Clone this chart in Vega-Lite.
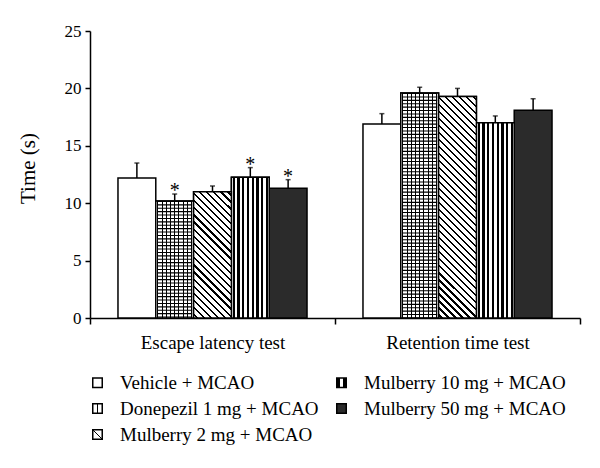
{
"$schema":"https://vega.github.io/schema/vega-lite/v6.json",
"width":490,"height":287,
"autosize":{"type":"none"},
"padding":{"left":90,"top":31,"right":20,"bottom":150},
"config":{"view":{"stroke":null},"font":"Liberation Serif",
"axis":{"labelFont":"Liberation Serif","titleFont":"Liberation Serif","labelColor":"black","titleColor":"black","domainColor":"black","tickColor":"black","domainWidth":1.5,"tickWidth":1.5,"grid":false}},
"data":{"values":[
{"test":"Escape latency test","treatment":"Vehicle + MCAO","time":12.2,"upper":13.5,"sig":""},
{"test":"Escape latency test","treatment":"Donepezil 1 mg + MCAO","time":10.2,"upper":10.8,"sig":"*"},
{"test":"Escape latency test","treatment":"Mulberry 2 mg + MCAO","time":11.0,"upper":11.5,"sig":""},
{"test":"Escape latency test","treatment":"Mulberry 10 mg + MCAO","time":12.25,"upper":13.1,"sig":"*"},
{"test":"Escape latency test","treatment":"Mulberry 50 mg + MCAO","time":11.3,"upper":12.05,"sig":"*"},
{"test":"Retention time test","treatment":"Vehicle + MCAO","time":16.9,"upper":17.8,"sig":""},
{"test":"Retention time test","treatment":"Donepezil 1 mg + MCAO","time":19.6,"upper":20.1,"sig":""},
{"test":"Retention time test","treatment":"Mulberry 2 mg + MCAO","time":19.3,"upper":20.0,"sig":""},
{"test":"Retention time test","treatment":"Mulberry 10 mg + MCAO","time":17.0,"upper":17.6,"sig":""},
{"test":"Retention time test","treatment":"Mulberry 50 mg + MCAO","time":18.1,"upper":19.1,"sig":""}
]},
"encoding":{
"x":{"field":"test","type":"nominal","scale":{"paddingInner":0,"paddingOuter":0},"axis":{"title":null,"labelAngle":0,"labelFontSize":19,"labelPadding":9,"tickBand":"extent","tickSize":6}},
"xOffset":{"field":"treatment","type":"nominal","scale":{"domain":["Vehicle + MCAO","Donepezil 1 mg + MCAO","Mulberry 2 mg + MCAO","Mulberry 10 mg + MCAO","Mulberry 50 mg + MCAO"],"paddingInner":0,"paddingOuter":0.74}},
"y":{"field":"time","type":"quantitative","scale":{"domain":[0,25]},"axis":{"title":"Time (s)","values":[0,5,10,15,20,25],"labelFontSize":17,"titleFontSize":21,"titleFontWeight":"normal","tickSize":5,"labelPadding":4,"titlePadding":26,"titleY":137}}
},
"layer":[
{"mark":{"type":"bar","stroke":"black","strokeWidth":1.5},
"encoding":{"color":{"field":"treatment","type":"nominal",
"scale":{"domain":["Vehicle + MCAO","Donepezil 1 mg + MCAO","Mulberry 2 mg + MCAO","Mulberry 10 mg + MCAO","Mulberry 50 mg + MCAO"],
"range":["white",
{"expr":"{gradient:'linear',x1:0,y1:0,x2:1,y2:0,stops:[{offset:0,color:'white'},{offset:0.44,color:'white'},{offset:0.44,color:'black'},{offset:0.56,color:'black'},{offset:0.56,color:'white'},{offset:1,color:'white'}]}"},
{"expr":"{gradient:'linear',x1:0,y1:1,x2:1,y2:0,stops:[{offset:0,color:'white'},{offset:0.45,color:'white'},{offset:0.45,color:'black'},{offset:0.55,color:'black'},{offset:0.55,color:'white'},{offset:1,color:'white'}]}"},
{"expr":"{gradient:'linear',x1:0,y1:0,x2:1,y2:0,stops:[{offset:0,color:'black'},{offset:0.36,color:'black'},{offset:0.36,color:'white'},{offset:0.64,color:'white'},{offset:0.64,color:'black'},{offset:1,color:'black'}]}"},
"#2b2b2b"]},
"legend":{"title":null,"orient":"none","legendX":-2,"legendY":342,"columns":2,"symbolType":"square","symbolSize":90,"symbolStrokeColor":"black","symbolStrokeWidth":1.5,"labelFontSize":19,"labelFont":"Liberation Serif","labelColor":"black","labelOffset":13,"rowPadding":6,"columnPadding":13,"labelLimit":400}}}},
{"transform":[{"filter":"datum.treatment == 'Donepezil 1 mg + MCAO'"}],
"mark":{"type":"bar","stroke":"black","strokeWidth":1.5,"color":{"gradient":"linear","x1":0,"y1":0,"x2":1,"y2":0,"stops":[
{"offset":0.0416,"color":"white"},{"offset":0.0416,"color":"black"},{"offset":0.0696,"color":"black"},{"offset":0.0696,"color":"white"},
{"offset":0.1527,"color":"white"},{"offset":0.1527,"color":"black"},{"offset":0.1807,"color":"black"},{"offset":0.1807,"color":"white"},
{"offset":0.2638,"color":"white"},{"offset":0.2638,"color":"black"},{"offset":0.2918,"color":"black"},{"offset":0.2918,"color":"white"},
{"offset":0.3749,"color":"white"},{"offset":0.3749,"color":"black"},{"offset":0.4029,"color":"black"},{"offset":0.4029,"color":"white"},
{"offset":0.486,"color":"white"},{"offset":0.486,"color":"black"},{"offset":0.514,"color":"black"},{"offset":0.514,"color":"white"},
{"offset":0.5971,"color":"white"},{"offset":0.5971,"color":"black"},{"offset":0.6251,"color":"black"},{"offset":0.6251,"color":"white"},
{"offset":0.7082,"color":"white"},{"offset":0.7082,"color":"black"},{"offset":0.7362,"color":"black"},{"offset":0.7362,"color":"white"},
{"offset":0.8193,"color":"white"},{"offset":0.8193,"color":"black"},{"offset":0.8473,"color":"black"},{"offset":0.8473,"color":"white"},
{"offset":0.9304,"color":"white"},{"offset":0.9304,"color":"black"},{"offset":0.9584,"color":"black"},{"offset":0.9584,"color":"white"}]}}},
{"transform":[{"filter":"datum.treatment == 'Donepezil 1 mg + MCAO'"}],
"mark":{"type":"rule","color":"black","strokeWidth":35,"strokeDash":[1.1,2.3]},
"encoding":{"y2":{"datum":0}}},
{"transform":[{"filter":"datum.treatment == 'Mulberry 10 mg + MCAO'"}],
"mark":{"type":"bar","stroke":"black","strokeWidth":1.5,"color":{"gradient":"linear","x1":0,"y1":0,"x2":1,"y2":0,"stops":[
{"offset":0.0325,"color":"white"},{"offset":0.0325,"color":"black"},{"offset":0.0925,"color":"black"},{"offset":0.0925,"color":"white"},
{"offset":0.1575,"color":"white"},{"offset":0.1575,"color":"black"},{"offset":0.2175,"color":"black"},{"offset":0.2175,"color":"white"},
{"offset":0.2825,"color":"white"},{"offset":0.2825,"color":"black"},{"offset":0.3425,"color":"black"},{"offset":0.3425,"color":"white"},
{"offset":0.4075,"color":"white"},{"offset":0.4075,"color":"black"},{"offset":0.4675,"color":"black"},{"offset":0.4675,"color":"white"},
{"offset":0.5325,"color":"white"},{"offset":0.5325,"color":"black"},{"offset":0.5925,"color":"black"},{"offset":0.5925,"color":"white"},
{"offset":0.6575,"color":"white"},{"offset":0.6575,"color":"black"},{"offset":0.7175,"color":"black"},{"offset":0.7175,"color":"white"},
{"offset":0.7825,"color":"white"},{"offset":0.7825,"color":"black"},{"offset":0.8425,"color":"black"},{"offset":0.8425,"color":"white"},
{"offset":0.9075,"color":"white"},{"offset":0.9075,"color":"black"},{"offset":0.9675,"color":"black"},{"offset":0.9675,"color":"white"}]}}},
{"transform":[{"filter":"datum.treatment == 'Mulberry 2 mg + MCAO' && datum.test == 'Escape latency test'"}],
"mark":{"type":"bar","stroke":"black","strokeWidth":1.5,"color":{"gradient":"linear","x1":0,"y1":1,"x2":0.3569,"y2":-0.1925,"stops":[
{"offset":0.0147,"color":"white"},{"offset":0.0147,"color":"black"},{"offset":0.0287,"color":"black"},{"offset":0.0287,"color":"white"},
{"offset":0.0582,"color":"white"},{"offset":0.0582,"color":"black"},{"offset":0.0722,"color":"black"},{"offset":0.0722,"color":"white"},
{"offset":0.1017,"color":"white"},{"offset":0.1017,"color":"black"},{"offset":0.1157,"color":"black"},{"offset":0.1157,"color":"white"},
{"offset":0.1452,"color":"white"},{"offset":0.1452,"color":"black"},{"offset":0.1592,"color":"black"},{"offset":0.1592,"color":"white"},
{"offset":0.1887,"color":"white"},{"offset":0.1887,"color":"black"},{"offset":0.2027,"color":"black"},{"offset":0.2027,"color":"white"},
{"offset":0.2321,"color":"white"},{"offset":0.2321,"color":"black"},{"offset":0.2461,"color":"black"},{"offset":0.2461,"color":"white"},
{"offset":0.2756,"color":"white"},{"offset":0.2756,"color":"black"},{"offset":0.2896,"color":"black"},{"offset":0.2896,"color":"white"},
{"offset":0.3191,"color":"white"},{"offset":0.3191,"color":"black"},{"offset":0.3331,"color":"black"},{"offset":0.3331,"color":"white"},
{"offset":0.3626,"color":"white"},{"offset":0.3626,"color":"black"},{"offset":0.3766,"color":"black"},{"offset":0.3766,"color":"white"},
{"offset":0.4060,"color":"white"},{"offset":0.4060,"color":"black"},{"offset":0.4200,"color":"black"},{"offset":0.4200,"color":"white"},
{"offset":0.4495,"color":"white"},{"offset":0.4495,"color":"black"},{"offset":0.4635,"color":"black"},{"offset":0.4635,"color":"white"},
{"offset":0.4930,"color":"white"},{"offset":0.4930,"color":"black"},{"offset":0.5070,"color":"black"},{"offset":0.5070,"color":"white"},
{"offset":0.5365,"color":"white"},{"offset":0.5365,"color":"black"},{"offset":0.5505,"color":"black"},{"offset":0.5505,"color":"white"},
{"offset":0.5800,"color":"white"},{"offset":0.5800,"color":"black"},{"offset":0.5940,"color":"black"},{"offset":0.5940,"color":"white"},
{"offset":0.6234,"color":"white"},{"offset":0.6234,"color":"black"},{"offset":0.6374,"color":"black"},{"offset":0.6374,"color":"white"},
{"offset":0.6669,"color":"white"},{"offset":0.6669,"color":"black"},{"offset":0.6809,"color":"black"},{"offset":0.6809,"color":"white"},
{"offset":0.7104,"color":"white"},{"offset":0.7104,"color":"black"},{"offset":0.7244,"color":"black"},{"offset":0.7244,"color":"white"},
{"offset":0.7539,"color":"white"},{"offset":0.7539,"color":"black"},{"offset":0.7679,"color":"black"},{"offset":0.7679,"color":"white"},
{"offset":0.7973,"color":"white"},{"offset":0.7973,"color":"black"},{"offset":0.8113,"color":"black"},{"offset":0.8113,"color":"white"},
{"offset":0.8408,"color":"white"},{"offset":0.8408,"color":"black"},{"offset":0.8548,"color":"black"},{"offset":0.8548,"color":"white"},
{"offset":0.8843,"color":"white"},{"offset":0.8843,"color":"black"},{"offset":0.8983,"color":"black"},{"offset":0.8983,"color":"white"},
{"offset":0.9278,"color":"white"},{"offset":0.9278,"color":"black"},{"offset":0.9418,"color":"black"},{"offset":0.9418,"color":"white"},
{"offset":0.9713,"color":"white"},{"offset":0.9713,"color":"black"},{"offset":0.9853,"color":"black"},{"offset":0.9853,"color":"white"}]}}},
{"transform":[{"filter":"datum.treatment == 'Mulberry 2 mg + MCAO' && datum.test == 'Retention time test'"}],
"mark":{"type":"bar","stroke":"black","strokeWidth":1.5,"color":{"gradient":"linear","x1":0,"y1":1,"x2":0.1941,"y2":-0.1375,"stops":[
{"offset":0.0090,"color":"white"},{"offset":0.0090,"color":"black"},{"offset":0.0180,"color":"black"},{"offset":0.0180,"color":"white"},
{"offset":0.0360,"color":"white"},{"offset":0.0360,"color":"black"},{"offset":0.0450,"color":"black"},{"offset":0.0450,"color":"white"},
{"offset":0.0631,"color":"white"},{"offset":0.0631,"color":"black"},{"offset":0.0721,"color":"black"},{"offset":0.0721,"color":"white"},
{"offset":0.0901,"color":"white"},{"offset":0.0901,"color":"black"},{"offset":0.0991,"color":"black"},{"offset":0.0991,"color":"white"},
{"offset":0.1171,"color":"white"},{"offset":0.1171,"color":"black"},{"offset":0.1261,"color":"black"},{"offset":0.1261,"color":"white"},
{"offset":0.1441,"color":"white"},{"offset":0.1441,"color":"black"},{"offset":0.1531,"color":"black"},{"offset":0.1531,"color":"white"},
{"offset":0.1712,"color":"white"},{"offset":0.1712,"color":"black"},{"offset":0.1802,"color":"black"},{"offset":0.1802,"color":"white"},
{"offset":0.1982,"color":"white"},{"offset":0.1982,"color":"black"},{"offset":0.2072,"color":"black"},{"offset":0.2072,"color":"white"},
{"offset":0.2252,"color":"white"},{"offset":0.2252,"color":"black"},{"offset":0.2342,"color":"black"},{"offset":0.2342,"color":"white"},
{"offset":0.2523,"color":"white"},{"offset":0.2523,"color":"black"},{"offset":0.2613,"color":"black"},{"offset":0.2613,"color":"white"},
{"offset":0.2793,"color":"white"},{"offset":0.2793,"color":"black"},{"offset":0.2883,"color":"black"},{"offset":0.2883,"color":"white"},
{"offset":0.3063,"color":"white"},{"offset":0.3063,"color":"black"},{"offset":0.3153,"color":"black"},{"offset":0.3153,"color":"white"},
{"offset":0.3333,"color":"white"},{"offset":0.3333,"color":"black"},{"offset":0.3423,"color":"black"},{"offset":0.3423,"color":"white"},
{"offset":0.3604,"color":"white"},{"offset":0.3604,"color":"black"},{"offset":0.3694,"color":"black"},{"offset":0.3694,"color":"white"},
{"offset":0.3874,"color":"white"},{"offset":0.3874,"color":"black"},{"offset":0.3964,"color":"black"},{"offset":0.3964,"color":"white"},
{"offset":0.4144,"color":"white"},{"offset":0.4144,"color":"black"},{"offset":0.4234,"color":"black"},{"offset":0.4234,"color":"white"},
{"offset":0.4414,"color":"white"},{"offset":0.4414,"color":"black"},{"offset":0.4504,"color":"black"},{"offset":0.4504,"color":"white"},
{"offset":0.4685,"color":"white"},{"offset":0.4685,"color":"black"},{"offset":0.4775,"color":"black"},{"offset":0.4775,"color":"white"},
{"offset":0.4955,"color":"white"},{"offset":0.4955,"color":"black"},{"offset":0.5045,"color":"black"},{"offset":0.5045,"color":"white"},
{"offset":0.5225,"color":"white"},{"offset":0.5225,"color":"black"},{"offset":0.5315,"color":"black"},{"offset":0.5315,"color":"white"},
{"offset":0.5496,"color":"white"},{"offset":0.5496,"color":"black"},{"offset":0.5586,"color":"black"},{"offset":0.5586,"color":"white"},
{"offset":0.5766,"color":"white"},{"offset":0.5766,"color":"black"},{"offset":0.5856,"color":"black"},{"offset":0.5856,"color":"white"},
{"offset":0.6036,"color":"white"},{"offset":0.6036,"color":"black"},{"offset":0.6126,"color":"black"},{"offset":0.6126,"color":"white"},
{"offset":0.6306,"color":"white"},{"offset":0.6306,"color":"black"},{"offset":0.6396,"color":"black"},{"offset":0.6396,"color":"white"},
{"offset":0.6577,"color":"white"},{"offset":0.6577,"color":"black"},{"offset":0.6667,"color":"black"},{"offset":0.6667,"color":"white"},
{"offset":0.6847,"color":"white"},{"offset":0.6847,"color":"black"},{"offset":0.6937,"color":"black"},{"offset":0.6937,"color":"white"},
{"offset":0.7117,"color":"white"},{"offset":0.7117,"color":"black"},{"offset":0.7207,"color":"black"},{"offset":0.7207,"color":"white"},
{"offset":0.7387,"color":"white"},{"offset":0.7387,"color":"black"},{"offset":0.7477,"color":"black"},{"offset":0.7477,"color":"white"},
{"offset":0.7658,"color":"white"},{"offset":0.7658,"color":"black"},{"offset":0.7748,"color":"black"},{"offset":0.7748,"color":"white"},
{"offset":0.7928,"color":"white"},{"offset":0.7928,"color":"black"},{"offset":0.8018,"color":"black"},{"offset":0.8018,"color":"white"},
{"offset":0.8198,"color":"white"},{"offset":0.8198,"color":"black"},{"offset":0.8288,"color":"black"},{"offset":0.8288,"color":"white"},
{"offset":0.8469,"color":"white"},{"offset":0.8469,"color":"black"},{"offset":0.8559,"color":"black"},{"offset":0.8559,"color":"white"},
{"offset":0.8739,"color":"white"},{"offset":0.8739,"color":"black"},{"offset":0.8829,"color":"black"},{"offset":0.8829,"color":"white"},
{"offset":0.9009,"color":"white"},{"offset":0.9009,"color":"black"},{"offset":0.9099,"color":"black"},{"offset":0.9099,"color":"white"},
{"offset":0.9279,"color":"white"},{"offset":0.9279,"color":"black"},{"offset":0.9369,"color":"black"},{"offset":0.9369,"color":"white"},
{"offset":0.9550,"color":"white"},{"offset":0.9550,"color":"black"},{"offset":0.9640,"color":"black"},{"offset":0.9640,"color":"white"},
{"offset":0.9820,"color":"white"},{"offset":0.9820,"color":"black"},{"offset":0.9910,"color":"black"},{"offset":0.9910,"color":"white"}]}}},
{"mark":{"type":"rule","color":"black","strokeWidth":1.5},"encoding":{"y2":{"field":"upper"}}},
{"mark":{"type":"tick","color":"black","thickness":1.5,"size":5},"encoding":{"y":{"field":"upper","type":"quantitative"}}},
{"mark":{"type":"text","fontSize":20,"dy":3,"baseline":"alphabetic","font":"Liberation Serif","color":"black"},"encoding":{"y":{"field":"upper","type":"quantitative"},"text":{"field":"sig"}}}
]
}
